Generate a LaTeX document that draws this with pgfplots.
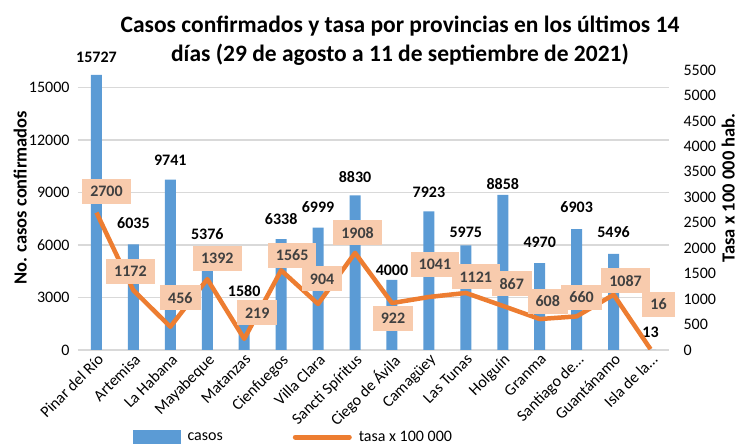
\documentclass[border=0pt]{standalone}
\usepackage{fontspec}
\setmainfont{Carlito}
\usepackage{pgfplots}
\pgfplotsset{compat=1.18}
\usepackage{pgfplotstable}

\definecolor{barblue}{HTML}{5B9BD5}
\definecolor{lineorange}{HTML}{ED7D31}
\definecolor{boxpeach}{HTML}{F8CBAD}
\definecolor{boxtext}{HTML}{404040}
\definecolor{gridgray}{HTML}{D9D9D9}

% casos por provincia, dy = gap above the bar for its label
\pgfplotstableread{
x casos dy
0 15727 12
1 6035 16
2 9741 14
3 5376 16
4 1580 26
5 6338 14
6 6999 15
7 8830 13
8 4000 4
9 7923 14
10 5975 8
11 8858 5
12 4970 15
13 6903 16
14 5496 16
15 13 12
}\casos

% tasa x 100 000 hab., dx/dy = where the label box sits
\pgfplotstableread{
x tasa dx dy
0 2700 10 21
1 1172 -3 19
2 456 10 29
3 1392 10 21
4 219 13 26
5 1565 11 15
6 904 4 25
7 1908 2.5 20
8 922 1 -15
9 1041 6 33
10 1121 10 16
11 867 9 22
12 608 8 18
13 660 5 19
14 1087 12 14
15 16 8 45
}\tasa

\begin{document}
\begin{tikzpicture}[font=\fontsize{16}{19}\selectfont]
\path[use as bounding box] (0,0) rectangle (737pt,444pt);

\node[align=center, font=\fontsize{23.5}{29}\selectfont\bfseries] at (400pt,403pt)
  {Casos confirmados y tasa por provincias en los últimos 14\\
   días (29 de agosto a 11 de septiembre de 2021)};

\begin{axis}[
  at={(78pt,94pt)}, anchor=south west,
  scale only axis, width=591pt, height=280pt,
  xmin=-0.5, xmax=15.5, ymin=0, ymax=16000,
  xtick={0,1,...,15},
  xticklabels={Pinar del Río, Artemisa, La Habana, Mayabeque, Matanzas,
    Cienfuegos, Villa Clara, Sancti Spíritus, Ciego de Ávila, Camagüey,
    Las Tunas, Holguín, Granma, {Santiago de\ldots}, Guantánamo, {Isla de la\ldots}},
  xticklabel style={rotate=45, anchor=north east, inner sep=2pt},
  ytick={0,3000,...,15000},
  scaled y ticks=false,
  yticklabel style={xshift=-5pt},
  tick label style={font=\fontsize{16}{19}\selectfont},
  ymajorgrids, grid style={gridgray, line width=1.2pt},
  axis line style={draw=none}, major tick length=0pt,
  /pgf/number format/1000 sep={},
  /pgf/number format/assume math mode=true,
  ylabel={No. casos confirmados},
  ylabel style={font=\fontsize{18.5}{22}\selectfont\bfseries,
    at={(axis description cs:-0.098,0.543)}, anchor=center},
]
\addplot[ybar, bar width=11pt, fill=barblue, draw=none,
  point meta=explicit symbolic,
  nodes near coords,
  visualization depends on={\thisrow{dy} \as \labdy},
  nodes near coords style={anchor=south, yshift=\labdy pt, inner sep=0pt,
    font=\fontsize{16}{19}\selectfont\bfseries, text=black}]
  table[x=x, y=casos, meta=casos] {\casos};
\end{axis}

\begin{axis}[
  at={(78pt,94pt)}, anchor=south west,
  scale only axis, width=591pt, height=280pt,
  xmin=-0.5, xmax=15.5, ymin=0, ymax=5500,
  axis x line=none, axis y line*=right,
  axis line style={draw=none}, major tick length=0pt,
  ytick={0,500,...,5500},
  scaled y ticks=false,
  yticklabel style={xshift=11pt},
  tick label style={font=\fontsize{16}{19}\selectfont},
  /pgf/number format/1000 sep={},
  /pgf/number format/assume math mode=true,
  ylabel={Tasa x 100 000 hab.},
  ylabel style={font=\fontsize{18.5}{22}\selectfont\bfseries,
    at={(axis description cs:1.1,0.579)}, anchor=center},
  legend columns=2,
  legend style={at={(0.093,-0.311)}, anchor=west, draw=none, fill=none,
    inner sep=0pt, font=\fontsize{16}{19}\selectfont,
    /tikz/every odd column/.append style={column sep=5pt},
    /tikz/every even column/.append style={column sep=68pt}},
  legend cell align=left,
]
\addlegendimage{legend image code/.code={\fill[barblue] (0pt,-7pt) rectangle (47pt,7pt);}}
\addlegendentry{casos}
\addlegendimage{legend image code/.code={\draw[lineorange, line width=5pt, line cap=round] (0pt,0pt) -- (54pt,0pt);}}
\addlegendentry{tasa x 100 000}

\addplot[forget plot, lineorange, line width=4.5pt, line join=round, mark=none,
  point meta=explicit symbolic,
  nodes near coords,
  visualization depends on={\thisrow{dx} \as \labdx},
  visualization depends on={\thisrow{dy} \as \labdy},
  nodes near coords style={anchor=center, xshift=\labdx pt, yshift=\labdy pt,
    fill=boxpeach, text=boxtext, inner xsep=8pt, minimum height=25pt,
    font=\fontsize{16}{19}\selectfont\bfseries}]
  table[x=x, y=tasa, meta=tasa] {\tasa};
\end{axis}
\end{tikzpicture}
\end{document}
